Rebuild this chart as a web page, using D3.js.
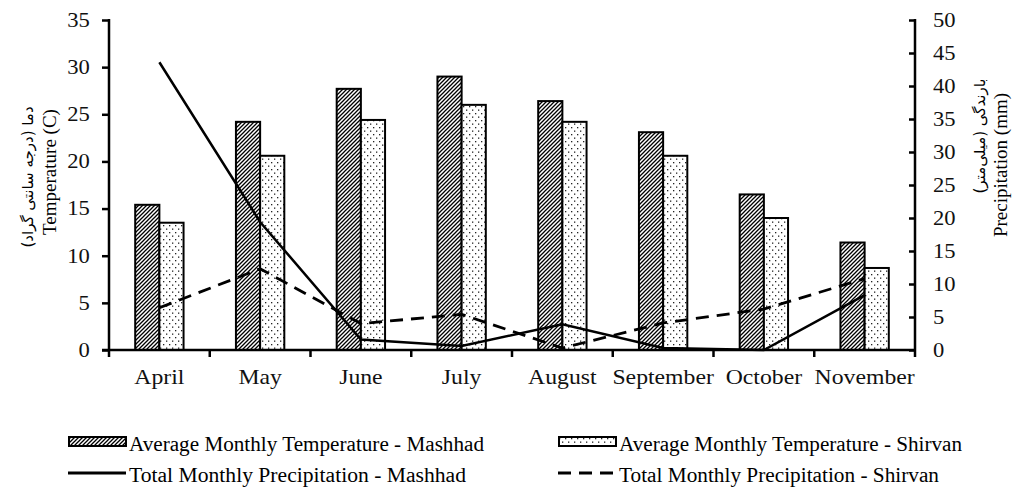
<!DOCTYPE html>
<html>
<head>
<meta charset="utf-8">
<script src="https://cdn.jsdelivr.net/npm/d3@7"></script>
<style>
  body { margin: 0; background: #fff; }
  svg { display: block; font-family: 'Liberation Serif', 'Times New Roman', serif; }
  .axis path, .axis line { stroke: #000; stroke-width: 2.5; }
  .axis text { font-size: 20px; fill: #111; font-family: 'Liberation Serif', serif; }
</style>
</head>
<body>
<svg id="chart"></svg>
<script>
var months = ['April', 'May', 'June', 'July', 'August', 'September', 'October', 'November'];
var tempMashhad = [15.4, 24.2, 27.7, 29.0, 26.4, 23.1, 16.5, 11.4];
var tempShirvan = [13.5, 20.6, 24.4, 26.0, 24.2, 20.6, 14.0, 8.7];
var precipMashhad = [43.6, 19.4, 1.6, 0.6, 3.9, 0.3, 0, 8.3];
var precipShirvan = [6.4, 12.3, 4.0, 5.4, 0.3, 4.1, 6.2, 10.8];
var tempTicks = [0, 5, 10, 15, 20, 25, 30, 35];
var precipTicks = [0, 5, 10, 15, 20, 25, 30, 35, 40, 45, 50];

var width = 1015;
var height = 498;
var plotLeft = 109;
var plotRight = 915;
var plotTop = 20;
var plotBottom = 350;
var stretch = 1.13; // the reference's text is a little wider than plain Times

var svg = d3.select('#chart')
  .attr('width', width)
  .attr('height', height);

var defs = svg.append('defs');

var hatch = defs.append('pattern')
  .attr('id', 'hatch')
  .attr('patternUnits', 'userSpaceOnUse')
  .attr('width', 4)
  .attr('height', 4);
hatch.append('rect').attr('width', 4).attr('height', 4).attr('fill', '#fff');
hatch.append('path')
  .attr('d', 'M-1,1 l2,-2 M0,4 l4,-4 M3,5 l2,-2')
  .attr('stroke', '#000')
  .attr('stroke-width', 1.3);

var dots = defs.append('pattern')
  .attr('id', 'dots')
  .attr('patternUnits', 'userSpaceOnUse')
  .attr('width', 6)
  .attr('height', 7);
dots.append('rect').attr('width', 6).attr('height', 7).attr('fill', '#fff');
dots.append('rect').attr('x', 1).attr('y', 1).attr('width', 1.3).attr('height', 1.3).attr('fill', '#222');
dots.append('rect').attr('x', 4).attr('y', 4.5).attr('width', 1.3).attr('height', 1.3).attr('fill', '#222');

var x = d3.scaleBand()
  .domain(months)
  .range([plotLeft, plotRight])
  .paddingInner(0.52)
  .paddingOuter(0.26);

var step = x.step();

var xSub = d3.scaleBand()
  .domain(['Mashhad', 'Shirvan'])
  .range([0, x.bandwidth()]);

var yTemp = d3.scaleLinear().domain([0, 35]).range([plotBottom, plotTop]);
var yPrecip = d3.scaleLinear().domain([0, 50]).range([plotBottom, plotTop]);

var center = m => x(m) + x.bandwidth() / 2;

// bars
var groups = svg.append('g').selectAll('g')
  .data(months)
  .enter()
  .append('g');

groups.append('rect')
  .attr('x', d => x(d) + xSub('Mashhad'))
  .attr('y', (d, i) => yTemp(tempMashhad[i]))
  .attr('width', xSub.bandwidth())
  .attr('height', (d, i) => plotBottom - yTemp(tempMashhad[i]))
  .attr('fill', 'url(#hatch)')
  .attr('stroke', '#000')
  .attr('stroke-width', 2);

groups.append('rect')
  .attr('x', d => x(d) + xSub('Shirvan'))
  .attr('y', (d, i) => yTemp(tempShirvan[i]))
  .attr('width', xSub.bandwidth())
  .attr('height', (d, i) => plotBottom - yTemp(tempShirvan[i]))
  .attr('fill', 'url(#dots)')
  .attr('stroke', '#000')
  .attr('stroke-width', 2);

// lines
var line = d3.line()
  .x((d, i) => center(months[i]))
  .y(d => yPrecip(d));

svg.append('path')
  .datum(precipMashhad)
  .attr('d', line)
  .attr('fill', 'none')
  .attr('stroke', '#000')
  .attr('stroke-width', 2.5);

svg.append('path')
  .datum(precipShirvan)
  .attr('d', line)
  .attr('fill', 'none')
  .attr('stroke', '#000')
  .attr('stroke-width', 2.8)
  .attr('stroke-dasharray', '13,8');

// axes
svg.append('g')
  .attr('class', 'axis')
  .attr('transform', 'translate(' + plotLeft + ',0)')
  .call(d3.axisLeft(yTemp).tickValues(tempTicks).tickSizeOuter(0).tickSizeInner(7).tickPadding(10))
  .call(g => g.select('.domain').attr('d', 'M0,' + (plotTop - 1) + 'V' + plotBottom))
  .call(g => g.selectAll('text').attr('transform', 'scale(' + stretch + ',1)'));

svg.append('g')
  .attr('class', 'axis')
  .attr('transform', 'translate(' + plotRight + ',0)')
  .call(d3.axisRight(yPrecip).tickValues(precipTicks).tickSizeOuter(0).tickSizeInner(-6).tickPadding(16))
  .call(g => g.select('.domain').attr('d', 'M0,' + (plotTop - 1) + 'V' + plotBottom))
  .call(g => g.selectAll('text').attr('transform', 'scale(' + stretch + ',1)'));

var xAxis = svg.append('g')
  .attr('class', 'axis')
  .attr('transform', 'translate(0,' + plotBottom + ')');
xAxis.append('line')
  .attr('x1', plotLeft - 7).attr('x2', plotRight).attr('y1', 0).attr('y2', 0);
xAxis.selectAll('.xt')
  .data(d3.range(months.length + 1))
  .enter()
  .append('line')
  .attr('class', 'xt')
  .attr('x1', i => plotLeft + i * step).attr('x2', i => plotLeft + i * step)
  .attr('y1', 0).attr('y2', 7);
xAxis.selectAll('text')
  .data(months)
  .enter()
  .append('text')
  .attr('transform', d => 'translate(' + center(d) + ',34) scale(' + stretch + ',1)')
  .attr('text-anchor', 'middle')
  .style('font-size', '21px')
  .text(d => d);

// axis titles
svg.append('text')
  .attr('transform', 'translate(56,172) rotate(-90)')
  .attr('text-anchor', 'middle')
  .style('font-size', '19px')
  .text('Temperature (C)');

svg.append('text')
  .attr('transform', 'translate(33,177) rotate(-90)')
  .attr('text-anchor', 'middle')
  .style('font-size', '15px')
  .style('font-family', "'DejaVu Sans', sans-serif")
  .attr('direction', 'rtl')
  .text('دما (درجه سانتی گراد)');

svg.append('text')
  .attr('transform', 'translate(1007,165) rotate(-90)')
  .attr('text-anchor', 'middle')
  .style('font-size', '19px')
  .text('Precipitation (mm)');

svg.append('text')
  .attr('transform', 'translate(985,136) rotate(-90)')
  .attr('text-anchor', 'middle')
  .style('font-size', '15px')
  .style('font-family', "'DejaVu Sans', sans-serif")
  .attr('direction', 'rtl')
  .text('بارندگی (میلی‌متر)');

// legend
var legend = [
  { x: 68, y: 444, type: 'bar', fill: 'url(#hatch)', len: 355, label: 'Average Monthly Temperature - Mashhad' },
  { x: 558, y: 444, type: 'bar', fill: 'url(#dots)', len: 343, label: 'Average Monthly Temperature - Shirvan' },
  { x: 68, y: 475, type: 'line', dash: null, len: 337, label: 'Total Monthly Precipitation - Mashhad' },
  { x: 558, y: 475, type: 'line', dash: '13,8', len: 320, label: 'Total Monthly Precipitation - Shirvan' }
];

var lg = svg.append('g').selectAll('g')
  .data(legend)
  .enter()
  .append('g')
  .attr('transform', d => 'translate(' + d.x + ',' + d.y + ')');

lg.filter(d => d.type === 'bar')
  .append('rect')
  .attr('x', 1).attr('y', -7)
  .attr('width', 57).attr('height', 9)
  .attr('fill', d => d.fill)
  .attr('stroke', '#000')
  .attr('stroke-width', 2);

lg.filter(d => d.type === 'line')
  .append('line')
  .attr('x1', 0).attr('x2', 58)
  .attr('y1', -2).attr('y2', -2)
  .attr('stroke', '#000')
  .attr('stroke-width', 2.8)
  .attr('stroke-dasharray', d => d.dash);

lg.append('text')
  .attr('x', 61)
  .attr('y', 7)
  .attr('textLength', d => d.len)
  .attr('lengthAdjust', 'spacingAndGlyphs')
  .style('font-size', '20px')
  .text(d => d.label);
</script>
</body>
</html>
